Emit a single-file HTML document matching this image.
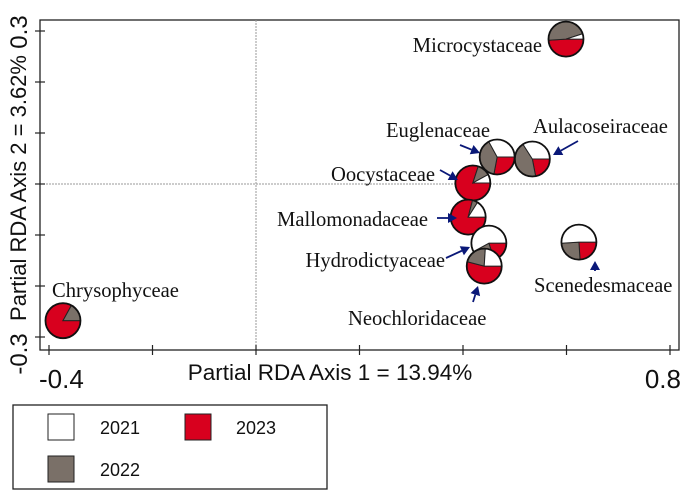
<!DOCTYPE html>
<html><head><meta charset="utf-8"><style>
html,body{margin:0;padding:0;background:#fff;}
svg{display:block;}
.lab{font-family:"Liberation Serif",serif;font-size:20.6px;fill:#111;}
.ax{font-family:"Liberation Sans",sans-serif;fill:#111;}
</style></head><body>
<svg id="chart" width="685" height="495" viewBox="0 0 685 495" xmlns="http://www.w3.org/2000/svg">
<rect x="40" y="20" width="639" height="330" fill="#fff" stroke="#222" stroke-width="1.3"/>
<g id="grid"></g>
<g id="ticks"></g>
<g id="pies"></g>
<g id="labels"></g>
<text class="ax" x="330" y="380" font-size="22.5" text-anchor="middle">Partial RDA Axis 1 = 13.94%</text>
<text class="ax" transform="translate(26,188) rotate(-90)" font-size="22" text-anchor="middle">Partial RDA Axis 2 = 3.62%</text>
<text class="ax" x="39" y="388" font-size="26">-0.4</text>
<text class="ax" x="681" y="388" font-size="26" text-anchor="end">0.8</text>
<text class="ax" transform="translate(27,32) rotate(-90)" font-size="24" text-anchor="middle">0.3</text>
<text class="ax" transform="translate(27,354) rotate(-90)" font-size="24" text-anchor="middle">-0.3</text>
<g>
<rect x="13" y="405" width="314" height="84" fill="#fff" stroke="#222" stroke-width="1.3"/>
<rect x="48" y="414" width="26" height="26" fill="#fff" stroke="#222"/>
<text class="ax" x="100" y="434" font-size="18">2021</text>
<rect x="185" y="414" width="26" height="26" fill="#d8001e" stroke="#222"/>
<text class="ax" x="236" y="434" font-size="18">2023</text>
<rect x="48" y="456" width="26" height="26" fill="#7a7068" stroke="#222"/>
<text class="ax" x="100" y="476" font-size="18">2022</text>
</g>
</svg>
<script>
const families=["Microcystaceae","Euglenaceae","Aulacoseiraceae","Oocystaceae","Mallomonadaceae","Hydrodictyaceae","Neochloridaceae","Scenedesmaceae","Chrysophyceae"];
const axis1=[0.599,0.466,0.534,0.419,0.410,0.450,0.441,0.624,-0.373];
const axis2=[0.284,0.053,0.049,0.002,-0.065,-0.116,-0.161,-0.114,-0.268];
const share2023=[0.49,0.28,0.22,0.80,0.79,0.20,0.54,0.24,0.83];
const share2022=[0.46,0.39,0.44,0.12,0.05,0.22,0.22,0.25,0.17];
const share2021=[0.05,0.33,0.34,0.08,0.16,0.58,0.24,0.51,0.00];
const xTicks=[-0.4,-0.2,0,0.2,0.4,0.6,0.8];
const yTicks=[-0.3,-0.2,-0.1,0,0.1,0.2,0.3];
const xs=v=>256+v*517.5;
const ys=v=>184-v*510;
const NS="http://www.w3.org/2000/svg";
function mk(t,a,p){const e=document.createElementNS(NS,t);for(const k in a)e.setAttribute(k,a[k]);p.appendChild(e);return e;}
const grid=document.getElementById('grid');
let g1=mk('line',{x1:xs(0),x2:xs(0),y1:20,y2:350,stroke:'#999','stroke-dasharray':'2,1','stroke-width':1},grid);


let g2=mk('line',{x1:40,x2:679,y1:ys(0),y2:ys(0),stroke:'#999','stroke-dasharray':'2,1','stroke-width':1},grid);


const tg=document.getElementById('ticks');
xTicks.forEach(v=>{const l=mk('line',{x1:xs(v),x2:xs(v),y1:345,y2:355,stroke:'#222','stroke-width':1.2},tg);

});
yTicks.forEach(v=>{const l=mk('line',{x1:35,x2:45,y1:ys(v),y2:ys(v),stroke:'#222','stroke-width':1.2},tg);

});
const pg=document.getElementById('pies');
const cols=['#d8001e','#7a7068','#ffffff'];
const order=[0,2,1,3,4,5,6,7,8];
const R=17.5;
order.forEach(i=>{
 const cx=xs(axis1[i]),cy=ys(axis2[i]);
 const g=mk('g',{},pg);
 
 
 const fr=[share2023[i],share2022[i],share2021[i]];
 let a=0;
 fr.forEach((f,k)=>{
  if(f<=0)return;
  const a2=a+f*2*Math.PI;
  const x1=cx+R*Math.cos(a),y1=cy+R*Math.sin(a),x2=cx+R*Math.cos(a2),y2=cy+R*Math.sin(a2);
  const p=mk('path',{d:`M${cx},${cy}L${x1},${y1}A${R},${R} 0 ${a2-a>Math.PI?1:0} 1 ${x2},${y2}Z`,fill:cols[k],stroke:'#222','stroke-width':1},g);
  
  
  a=a2;
 });
 const c=mk('circle',{cx:cx,cy:cy,r:R,fill:'none',stroke:'#111','stroke-width':1.8},g);
 
 
});
const lg=document.getElementById('labels');
const labs=[["Microcystaceae",542,52,"end"],["Euglenaceae",490,137,"end"],["Aulacoseiraceae",533,133,"start"],["Oocystaceae",435,181,"end"],["Mallomonadaceae",428,226,"end"],["Hydrodictyaceae",445,267,"end"],["Neochloridaceae",348,325,"start"],["Scenedesmaceae",534,292,"start"],["Chrysophyceae",52,297,"start"]];
labs.forEach(l=>{const t=mk('text',{x:l[1],y:l[2],'text-anchor':l[3],class:'lab'},lg);t.textContent=l[0];

});
const arrows=[[460,145,480,153],[578,141,553,155],[440,170,458,180],[437,218,457,218],[446,258,470,247],[473,302,478,286],[595,271,595,261]];
arrows.forEach(a=>{
 const dx=a[2]-a[0],dy=a[3]-a[1],L=Math.hypot(dx,dy),ux=dx/L,uy=dy/L;
 const bx=a[2]-ux*9,by=a[3]-uy*9;
 const ln=mk('line',{x1:a[0],y1:a[1],x2:bx,y2:by,stroke:'#0a1878','stroke-width':1.8},lg);
 
 
 const hd=mk('polygon',{points:`${a[2]},${a[3]} ${bx-uy*5},${by+ux*5} ${bx+uy*5},${by-ux*5}`,fill:'#0a1878'},lg);
 
 
});
</script>
</body></html>
